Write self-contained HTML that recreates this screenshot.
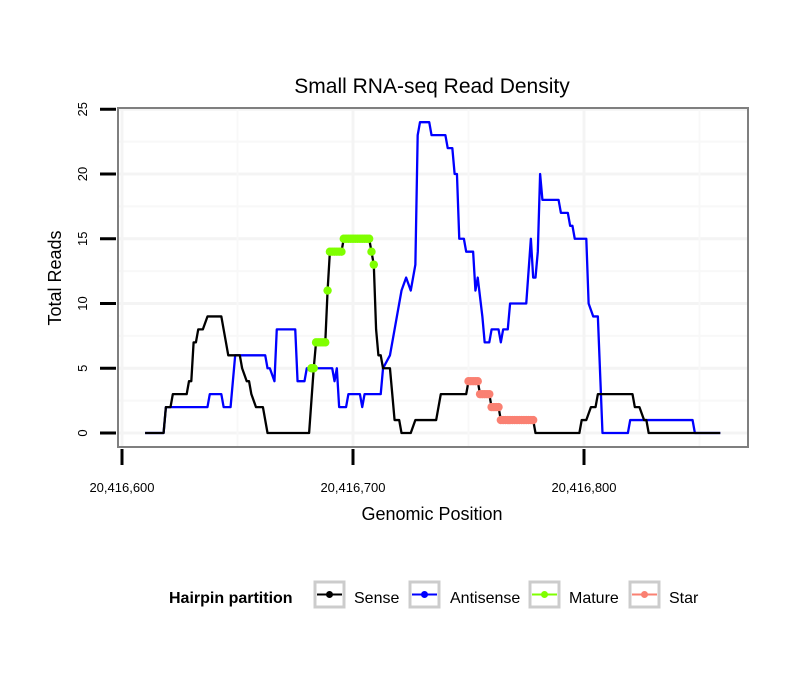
<!DOCTYPE html>
<html><head><meta charset="utf-8"><style>
body{margin:0;background:#fff;}
svg text{font-family:"Liberation Sans",sans-serif;}
</style></head><body>
<svg id="chart" width="810" height="690" xmlns="http://www.w3.org/2000/svg">
<rect width="810" height="690" fill="#fff"/>
<text x="432" y="93" font-size="21" text-anchor="middle">Small RNA-seq Read Density</text>
<g id="grid"></g>
<g id="series"></g>
<rect x="118" y="108" width="630" height="339" fill="none" stroke="#7f7f7f" stroke-width="2"/>
<g id="axes"></g>
<text x="432" y="520" font-size="18" text-anchor="middle">Genomic Position</text>
<text transform="translate(61,278) rotate(-90)" font-size="18" text-anchor="middle">Total Reads</text>
<g>
<text x="169" y="603" font-size="16" font-weight="bold">Hairpin partition</text>
<g>
<rect x="315" y="582" width="29" height="25" fill="#fff" stroke="#ccc" stroke-width="3"/>
<line x1="317" y1="594.5" x2="342" y2="594.5" stroke="#000" stroke-width="2"/><circle cx="329.5" cy="594.5" r="3.5" fill="#000"/>
<text x="354" y="603" font-size="16">Sense</text></g>
<g>
<rect x="410" y="582" width="29" height="25" fill="#fff" stroke="#ccc" stroke-width="3"/>
<line x1="412" y1="594.5" x2="437" y2="594.5" stroke="#0000ff" stroke-width="2"/><circle cx="424.5" cy="594.5" r="3.5" fill="#0000ff"/>
<text x="450" y="603" font-size="16">Antisense</text></g>
<g>
<rect x="530" y="582" width="29" height="25" fill="#fff" stroke="#ccc" stroke-width="3"/>
<line x1="532" y1="594.5" x2="557" y2="594.5" stroke="#7fff00" stroke-width="2"/><circle cx="544.5" cy="594.5" r="3.5" fill="#7fff00"/>
<text x="569" y="603" font-size="16">Mature</text></g>
<g>
<rect x="630" y="582" width="29" height="25" fill="#fff" stroke="#ccc" stroke-width="3"/>
<line x1="632" y1="594.5" x2="657" y2="594.5" stroke="#fa8072" stroke-width="2"/><circle cx="644.5" cy="594.5" r="3.5" fill="#fa8072"/>
<text x="669" y="603" font-size="16">Star</text></g>
</g>
</svg>
<script>
const xBase = 20416600;
const xTicks = [20416600, 20416700, 20416800];
const xTickLabels = ["20,416,600", "20,416,700", "20,416,800"];
const yTicks = [0, 5, 10, 15, 20, 25];
const senseOffsets = [10,18,19,21,22,28,29,30,31,32,33,35,37,43,44,45,46,51,52,54,55,56,58,61,63,81,83,84,88,89,90,95,96,107,108,109,110,111,112,113,116,117,118,120,121,125,127,136,138,149,150,154,155,159,160,163,164,178,179,198,199,201,203,205,206,221,222,224,226,227,228,259];
const senseValues  = [0,0,2,2,3,3,4,4,7,7,8,8,9,9,8,7,6,6,5,4,4,3,2,2,0,0,5,7,7,11,14,14,15,15,14,13,8,6,6,5,5,3,1,1,0,0,1,1,3,3,4,4,3,3,2,2,1,1,0,0,1,1,2,2,3,3,2,2,1,1,0,0];
const antiOffsets = [10,18,19,37,38,43,44,47,49,62,63,64,66,67,75,76,79,80,91,92,93,94,97,98,103,104,105,112,113,116,118,119,121,123,125,127,128,129,133,134,140,141,143,144,145,146,148,149,152,153,154,156,157,159,160,163,164,165,167,168,175,177,178,179,180,181,182,189,190,193,194,195,196,201,202,204,206,208,219,220,247,248,259];
const antiValues  = [0,0,2,2,3,3,2,2,6,6,5,5,4,8,8,4,4,5,5,4,5,2,2,3,3,2,3,3,5,6,8,9,11,12,11,13,23,24,24,23,23,22,22,20,20,15,15,14,14,11,12,9,7,7,8,8,7,8,8,10,10,15,12,12,14,20,18,18,17,17,16,16,15,15,10,9,9,0,0,1,1,0,0];
const matureOffsets = [82,83,84,85,86,87,88,89,90,91,92,93,94,95,96,97,98,99,100,101,102,103,104,105,106,107,108,109];
const matureValues  = [5,5,7,7,7,7,7,11,14,14,14,14,14,14,15,15,15,15,15,15,15,15,15,15,15,15,14,13];
const starOffsets = [150,151,152,153,154,155,156,157,158,159,160,161,162,163,164,165,166,167,168,169,170,171,172,173,174,175,176,177,178];
const starValues  = [4,4,4,4,4,3,3,3,3,3,2,2,2,2,1,1,1,1,1,1,1,1,1,1,1,1,1,1,1];

const NS = "http://www.w3.org/2000/svg";
function xs(off){ return 122 + off * 2.31; }
function ys(v){ return 433 - v * 12.95; }
function mk(tag, attrs, parent){ const e=document.createElementNS(NS,tag); for(const k in attrs) e.setAttribute(k,attrs[k]); parent.appendChild(e); return e; }

const grid=document.getElementById('grid'), ser=document.getElementById('series'), axes=document.getElementById('axes');
for(let v=0; v<=25; v+=2.5){
  const l=mk('line',{x1:119,x2:747,y1:ys(v),y2:ys(v),stroke:v%5===0?'#f4f4f4':'#f8f8f8','stroke-width':v%5===0?3:2},grid);
  
  
}
for(let o=0; o<=250; o+=50){
  const x=xs(o); if(x<119||x>747) continue;
  const l=mk('line',{x1:x,x2:x,y1:109,y2:446,stroke:o%100===0?'#f4f4f4':'#f8f8f8','stroke-width':o%100===0?3:2},grid);
  
  
}
yTicks.forEach(v=>{
  const t=mk('line',{x1:100,x2:116,y1:ys(v),y2:ys(v),stroke:'#000','stroke-width':3},axes);
  
  
  const tx=mk('text',{transform:`translate(87,${ys(v)}) rotate(-90)`,'font-size':13,'text-anchor':'middle'},axes);
  tx.textContent=String(v);
  
  
});
xTicks.forEach((p,i)=>{
  const x=xs(p-xBase);
  const t=mk('line',{x1:x,x2:x,y1:449,y2:465,stroke:'#000','stroke-width':3},axes);
  
  
  const tx=mk('text',{x:x,y:492,'font-size':13,'text-anchor':'middle'},axes);
  tx.textContent=xTickLabels[i];
  
  
});
function line(offs, vals, color, name){
  const p=mk('polyline',{points:offs.map((o,i)=>xs(o)+','+ys(vals[i])).join(' '),fill:'none',stroke:color,'stroke-width':2.3,'stroke-linejoin':'round'},ser);
  
  
}
function pts(offs, vals, color, name){
  offs.forEach((o,i)=>{
    const c=mk('circle',{cx:xs(o),cy:ys(vals[i]),r:4.2,fill:color},ser);
    
    
  });
}
line(antiOffsets, antiValues, '#0000ff', 'antisense-line');
line(senseOffsets, senseValues, '#000000', 'sense-line');
pts(matureOffsets, matureValues, '#7fff00', 'mature-point');
pts(starOffsets, starValues, '#fa8072', 'star-point');
</script>
</body></html>
